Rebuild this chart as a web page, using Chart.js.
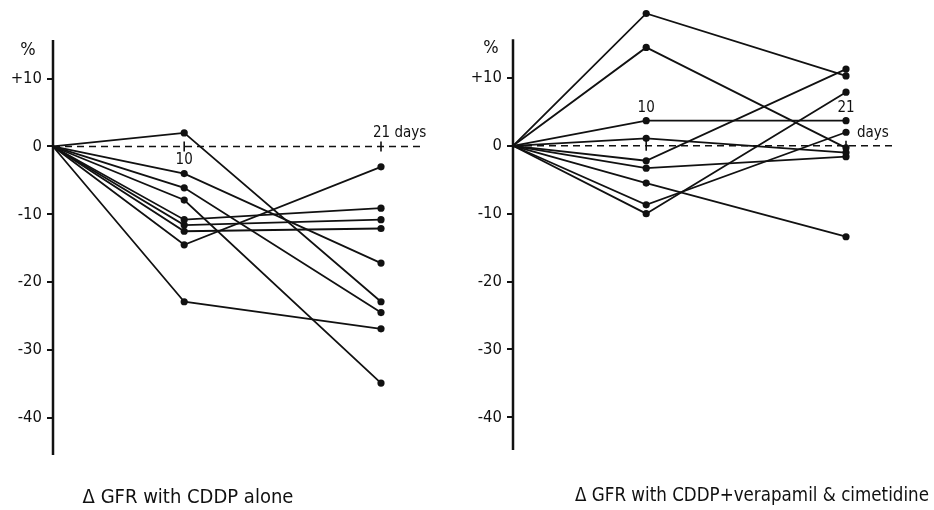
<!DOCTYPE html>
<html>
<head>
<meta charset="utf-8">
<script src="https://cdn.jsdelivr.net/npm/chart.js@4"></script>
<style>
  body { margin: 0; background: #fff; }
  #wrap { position: relative; width: 934px; height: 510px; overflow: hidden; }
  canvas { position: absolute; top: 0; }
  .cap { position: absolute; top: 484px; font-family: 'DejaVu Sans Condensed', 'Liberation Sans Narrow', 'DejaVu Sans', sans-serif; color: #111; transform: translateX(-50%); white-space: nowrap; }
</style>
</head>
<body>
<div id="wrap">
  <canvas id="left" width="467" height="510" style="left:0"></canvas>
  <canvas id="right" width="474" height="510" style="left:460px"></canvas>
  <div class="cap" style="left:188px; font-size:20px">&Delta; GFR with CDDP alone</div>
  <div class="cap" style="left:752px; font-size:18.6px">&Delta; GFR with CDDP+verapamil &amp; cimetidine</div>
</div>
<script>
// time axis: days 0, 10, 21 (drawn unevenly spaced, as in the figure)
const slotLabels = ['0', '', '10', '', '', '21']
const yTicks = [10, 0, -10, -20, -30, -40]

// % change in GFR, one entry per patient
const leftDay10 = [2.0, -4.0, -6.1, -7.9, -10.8, -11.6, -12.5, -14.5, -22.9]
const leftDay21 = [-22.9, -17.2, -24.5, -34.9, -9.1, -10.8, -12.1, -3.0, -26.9]
const rightDay10 = [19.5, 14.5, 3.7, 1.1, -2.2, -3.3, -5.5, -8.7, -10.0]
const rightDay21 = [10.3, -0.3, 3.7, -1.0, 11.3, -1.6, -13.4, 2.0, 7.9]

const FONT = "'DejaVu Sans Condensed', 'Liberation Sans Narrow', 'DejaVu Sans', sans-serif"
const INK = '#111'

const buildSets = (d10, d21) => {
    const sets = []
    for (let i = 0; i < d10.length; i++) {
        sets.push({
            data: [{x: '0', y: 0}, {x: '10', y: d10[i]}, {x: '21', y: d21[i]}],
            borderColor: INK,
            backgroundColor: INK,
            borderWidth: 1.8,
            pointRadius: [0, 3.6, 3.6],
            pointBorderWidth: 0,
            tension: 0
        })
    }
    return sets
}

// y axis line, zero line, day ticks and the little text labels
const guides = {
    id: 'guides',
    beforeDatasetsDraw(chart, args, opts) {
        const ctx = chart.ctx
        const xs = chart.scales.x, ys = chart.scales.y
        const area = chart.chartArea
        const y0 = ys.getPixelForValue(0)
        ctx.save()
        ctx.strokeStyle = INK
        ctx.lineWidth = 2.5
        ctx.beginPath()
        ctx.moveTo(area.left, ys.getPixelForValue(opts.axisTop))
        ctx.lineTo(area.left, area.bottom)
        ctx.stroke()
        ctx.lineWidth = 1.6
        ctx.setLineDash([7, 5])
        ctx.beginPath()
        ctx.moveTo(area.left, y0)
        ctx.lineTo(area.right + opts.dashExtend, y0)
        ctx.stroke()
        ctx.setLineDash([])
        ctx.beginPath()
        for (const d of ['10', '21']) {
            const px = xs.getPixelForValue(slotLabels.indexOf(d))
            ctx.moveTo(px, y0 - 5)
            ctx.lineTo(px, y0 + 5)
        }
        ctx.stroke()
        ctx.restore()
    },
    afterDraw(chart, args, opts) {
        const ctx = chart.ctx
        const xs = chart.scales.x
        ctx.save()
        ctx.fillStyle = INK
        ctx.textBaseline = 'middle'
        ctx.font = '18px ' + FONT
        ctx.textAlign = 'center'
        ctx.fillText('%', opts.pct[0], opts.pct[1])
        ctx.font = '15px ' + FONT
        for (const t of opts.texts) {
            const px = xs.getPixelForValue(slotLabels.indexOf(t.at)) + t.dx
            ctx.textAlign = t.align
            ctx.fillText(t.text, px, t.y)
        }
        ctx.restore()
    }
}

const makeChart = (id, d10, d21, yMin, yMax, pad, guideOpts) => {
    return new Chart(document.getElementById(id), {
        type: 'line',
        data: { labels: slotLabels, datasets: buildSets(d10, d21) },
        plugins: [guides],
        options: {
            responsive: false,
            animation: false,
            layout: { padding: pad },
            plugins: { legend: { display: false }, tooltip: { enabled: false }, guides: guideOpts },
            scales: {
                x: { type: 'category', display: false, offset: false },
                y: {
                    type: 'linear',
                    min: yMin,
                    max: yMax,
                    afterBuildTicks: (s) => { s.ticks = yTicks.map(v => ({value: v})) },
                    afterFit: (s) => { s.width = 53; s.paddingTop = 0; s.paddingBottom = 0 },
                    border: { display: false },
                    grid: { drawOnChartArea: false, drawTicks: true, tickLength: 6, color: INK, lineWidth: 2 },
                    ticks: {
                        color: INK,
                        padding: 5,
                        font: { family: FONT, size: 16.5 },
                        callback: (v) => v > 0 ? '+' + v : String(v)
                    }
                }
            }
        }
    })
}

makeChart('left', leftDay10, leftDay21, -45.5, 15.7,
    { top: 40, right: 86, bottom: 55, left: 0 },
    {
        axisTop: 15.7,
        dashExtend: 39,
        pct: [28, 50],
        texts: [
            { text: '10', at: '10', dx: 0, y: 160, align: 'center' },
            { text: '21 days', at: '21', dx: -8, y: 133, align: 'left' }
        ]
    })

makeChart('right', rightDay10, rightDay21, -44.83, 20.75,
    { top: 5, right: 88, bottom: 60, left: 0 },
    {
        axisTop: 15.7,
        dashExtend: 49,
        pct: [31, 48],
        texts: [
            { text: '10', at: '10', dx: 0, y: 108, align: 'center' },
            { text: '21', at: '21', dx: 0, y: 108, align: 'center' },
            { text: 'days', at: '21', dx: 11, y: 133, align: 'left' }
        ]
    })
</script>
</body>
</html>
